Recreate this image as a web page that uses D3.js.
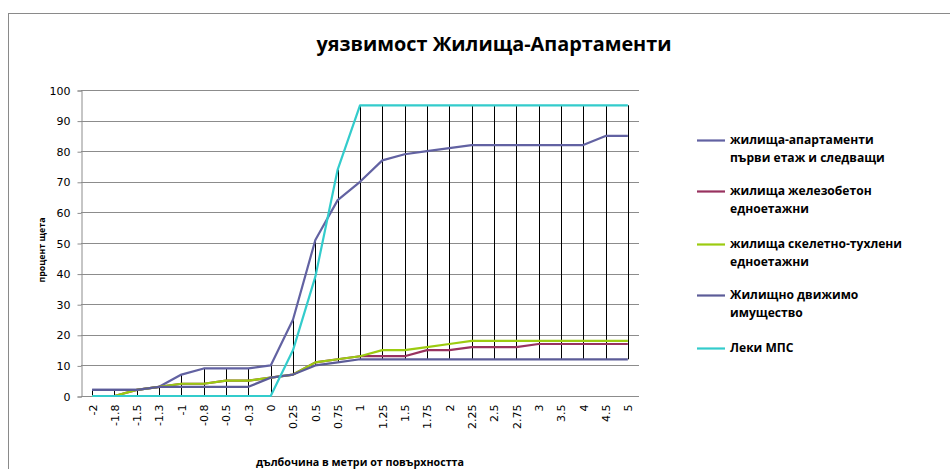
<!DOCTYPE html>
<html>
<head>
<meta charset="utf-8">
<script src="https://cdn.jsdelivr.net/npm/d3@7"></script>
<style>
  html, body { margin: 0; padding: 0; background: #fff; }
  svg { display: block; }
</style>
</head>
<body>
<svg id="chart" width="950" height="469"></svg>
<script>
// ---- data ----
const categories = ["-2","-1.8","-1.5","-1.3","-1","-0.8","-0.5","-0.3","0","0.25","0.5","0.75","1","1.25","1.5","1.75","2","2.25","2.5","2.75","3","3.5","4","4.5","5"];
const apartments = [2,2,2,3,7,9,9,9,10,25,51,64,70,77,79,80,81,82,82,82,82,82,82,85,85];
const concrete   = [0,0,2,3,4,4,5,5,6,7,11,12,13,13,13,15,15,16,16,16,17,17,17,17,17];
const brick      = [0,0,2,3,4,4,5,5,6,7,11,12,13,15,15,16,17,18,18,18,18,18,18,18,18];
const movable    = [2,2,2,3,3,3,3,3,6,7,10,11,12,12,12,12,12,12,12,12,12,12,12,12,12];
const vehicles   = [0,0,0,0,0,0,0,0,0,15,39,74,95,95,95,95,95,95,95,95,95,95,95,95,95];
const yTicks = [0,10,20,30,40,50,60,70,80,90,100];

const seriesNames = [
  ["жилища-апартаменти", "първи етаж и следващи"],
  ["жилища железобетон", "едноетажни"],
  ["жилища скелетно-тухлени", "едноетажни"],
  ["Жилищно движимо", "имущество"],
  ["Леки МПС"]
];
const seriesValues = [apartments, concrete, brick, movable, vehicles];
const seriesColors = ["#6262a2", "#98325f", "#9ccb10", "#5c5c98", "#33cccc"];

const titleText = "уязвимост Жилища-Апартаменти";
const xTitle = "дълбочина в метри от повърхността";
const yTitle = "процент щета";

// ---- layout ----
const svg = d3.select("#chart");
const plot = {left: 81, right: 639, top: 90, bottom: 396};
const boldFont = "'Open Sans', 'DejaVu Sans', sans-serif";
const tickFont = "'DejaVu Sans', sans-serif";

// outer frame
svg.append("rect")
  .attr("x", 8.5).attr("y", 13.5)
  .attr("width", 1000).attr("height", 600)
  .attr("fill", "#fff").attr("stroke", "#8a8a8a").attr("stroke-width", 1);

const x = d3.scalePoint().domain(categories).range([plot.left, plot.right]).padding(0.5);
const y = d3.scaleLinear().domain([0, 100]).range([plot.bottom, plot.top]);

// gridlines
svg.append("g").selectAll("line").data(yTicks).join("line")
  .attr("x1", plot.left).attr("x2", plot.right)
  .attr("y1", d => Math.round(y(d)) + 0.5).attr("y2", d => Math.round(y(d)) + 0.5)
  .attr("stroke", "#8c8c8c").attr("stroke-width", 1);

// y axis
const yAxis = d3.axisLeft(y).tickValues(yTicks).tickSize(4).tickPadding(7);
const gy = svg.append("g").attr("transform", `translate(${plot.left + 0.5},0.5)`).call(yAxis);
gy.select(".domain").attr("stroke", "#8c8c8c");
gy.selectAll(".tick line").attr("stroke", "#8c8c8c");
gy.selectAll(".tick text").attr("font-family", tickFont).attr("font-size", 11).attr("fill", "#000");

// x axis
const xAxis = d3.axisBottom(x).tickSize(0).tickPadding(0);
const gx = svg.append("g").attr("transform", `translate(0,${plot.bottom + 0.5})`).call(xAxis);
gx.select(".domain").attr("stroke", "#8c8c8c").attr("d", `M${plot.left},0H${plot.right}`);
gx.selectAll(".tick text")
  .attr("font-family", tickFont).attr("font-size", 11).attr("fill", "#000")
  .attr("transform", "rotate(-90)")
  .attr("text-anchor", "end")
  .attr("x", -8).attr("y", 0).attr("dy", "0.35em");

// high-low (drop) lines
svg.append("g").selectAll("line").data(categories).join("line")
  .attr("x1", d => Math.round(x(d)) + 0.5).attr("x2", d => Math.round(x(d)) + 0.5)
  .attr("y1", (d, i) => y(d3.max(seriesValues, s => s[i])))
  .attr("y2", (d, i) => y(d3.min(seriesValues, s => s[i])))
  .attr("stroke", "#000").attr("stroke-width", 1);

// series lines
const line = d3.line().x((d, i) => x(categories[i])).y(d => y(d));
svg.append("g").selectAll("path").data(seriesValues).join("path")
  .attr("d", d => line(d))
  .attr("fill", "none")
  .attr("stroke", (d, i) => seriesColors[i])
  .attr("stroke-width", 2.2)
  .attr("stroke-linejoin", "round");

// title
function fitText(sel, target) {
  const w = sel.node().getComputedTextLength();
  const fs = parseFloat(sel.attr("font-size"));
  sel.attr("font-size", (fs * target / w).toFixed(2));
}
const title = svg.append("text")
  .attr("x", 494).attr("y", 51)
  .attr("text-anchor", "middle")
  .attr("font-family", boldFont).attr("font-weight", "bold")
  .attr("font-size", 19).attr("fill", "#000")
  .text(titleText);
fitText(title, 355);

// axis titles
const xt = svg.append("text")
  .attr("x", (plot.left + plot.right) / 2).attr("y", 466)
  .attr("text-anchor", "middle")
  .attr("font-family", boldFont).attr("font-weight", "bold")
  .attr("font-size", 10).attr("fill", "#000")
  .text(xTitle);
fitText(xt, 208);

const yt = svg.append("text")
  .attr("transform", `translate(45,250) rotate(-90)`)
  .attr("text-anchor", "middle")
  .attr("font-family", boldFont).attr("font-weight", "bold")
  .attr("font-size", 10).attr("fill", "#000")
  .text(yTitle);
fitText(yt, 65);

// legend
const legendTop = [140, 191, 244, 295, 348];
const lg = svg.append("g");
const items = lg.selectAll("g").data(seriesNames).join("g")
  .attr("transform", (d, i) => `translate(697,${legendTop[i]})`);
items.append("line")
  .attr("x1", 0).attr("x2", 28).attr("y1", 0.5).attr("y2", 0.5)
  .attr("stroke", (d, i) => seriesColors[i]).attr("stroke-width", 2.2);
const texts = items.append("text")
  .attr("x", 33).attr("y", 0)
  .attr("font-family", boldFont).attr("font-weight", "bold")
  .attr("font-size", 12).attr("fill", "#000");
texts.selectAll("tspan").data(d => d).join("tspan")
  .attr("x", 33).attr("dy", (d, j) => j === 0 ? "0.35em" : "18px")
  .text(d => d);
// scale legend font so the longest line fits its reference width
const probe = texts.filter((d, i) => i === 0).selectAll("tspan").filter((d, j) => j === 1);
const pw = probe.node().getComputedTextLength();
texts.attr("font-size", (12 * 155 / pw).toFixed(2));
</script>
</body>
</html>
